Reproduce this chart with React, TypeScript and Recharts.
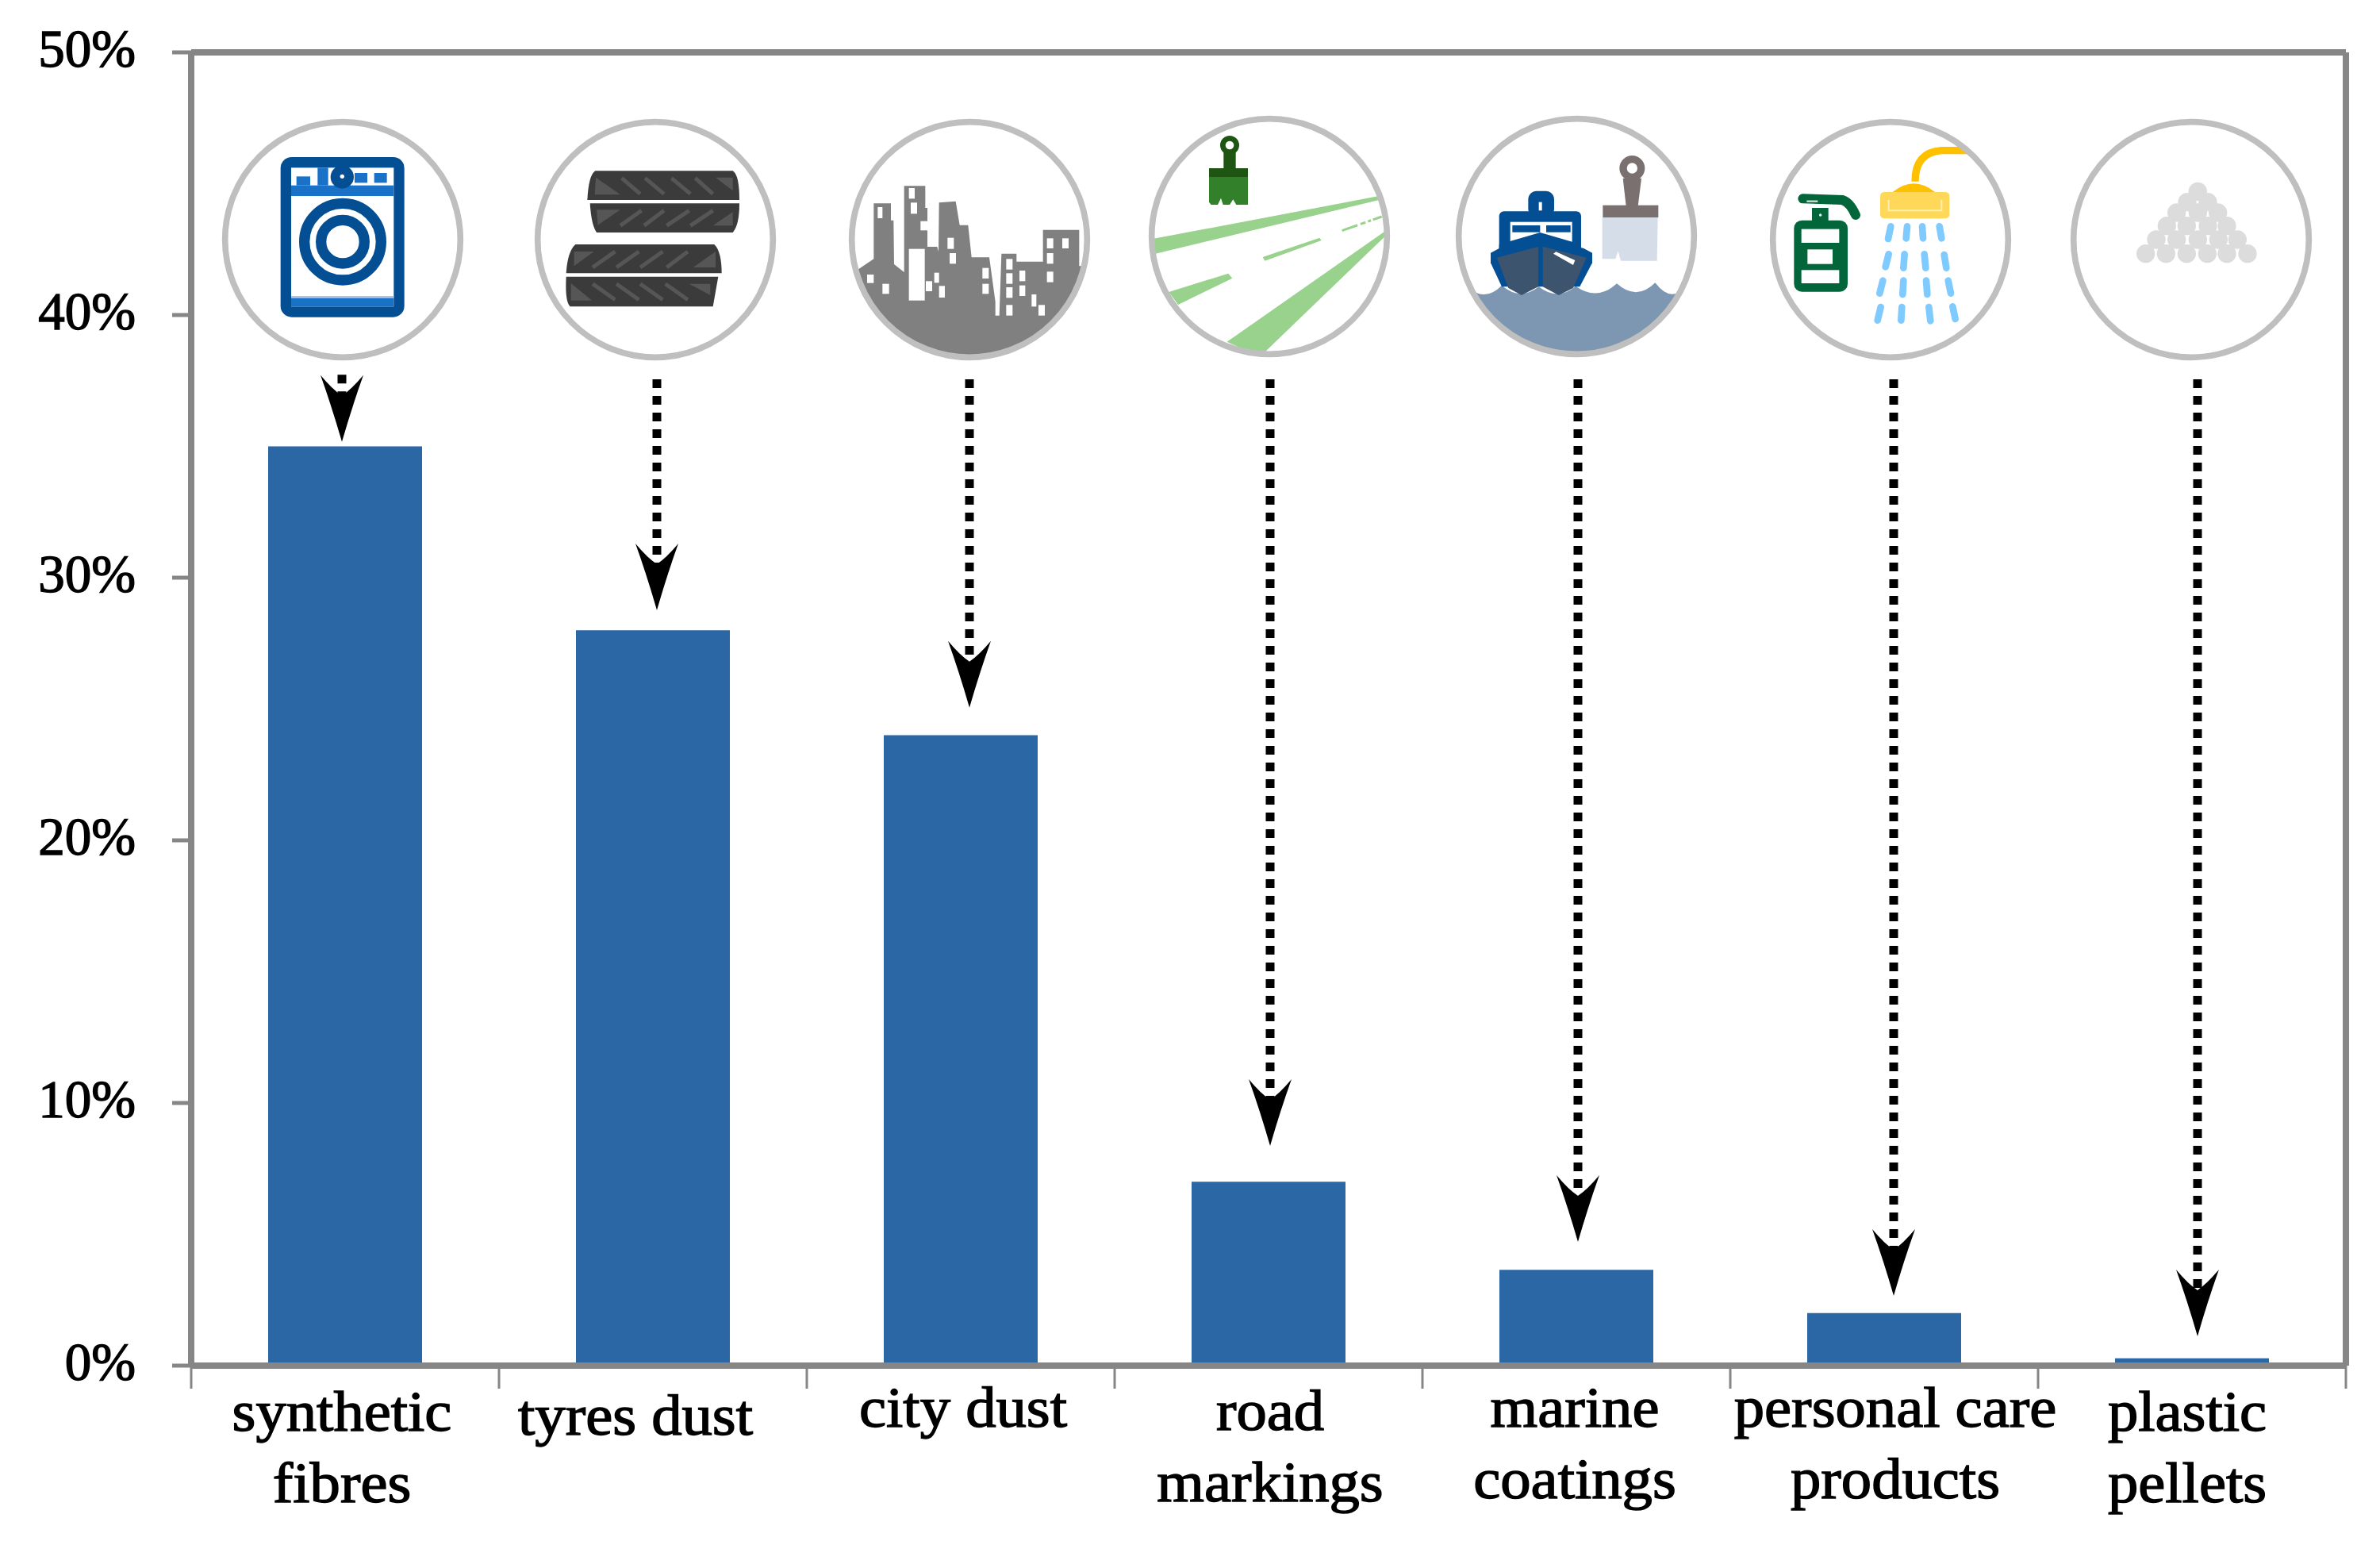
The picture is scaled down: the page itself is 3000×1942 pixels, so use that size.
import { BarChart, Bar, XAxis, YAxis, ReferenceLine, ReferenceDot } from 'recharts';

const categories = ['synthetic fibres', 'tyres dust', 'city dust', 'road markings', 'marine coatings', 'personal care products', 'plastic pellets'];
const shares = [35, 28, 24, 7, 3.65, 2, 0.28];
const yTicks = [0, 10, 20, 30, 40, 50];
const labelLines = [['synthetic', 'fibres'], ['tyres dust'], ['city dust'], ['road', 'markings'], ['marine', 'coatings'], ['personal care', 'products'], ['plastic', 'pellets']];
const arrowFrom = [37.73, 37.55, 37.55, 37.55, 37.55, 37.55, 37.55];
const arrowTo = [35.17, 28.76, 25.05, 8.37, 4.71, 2.66, 1.12];
const iconLevel = 42.87;

const GREY = '#868686';
const BLUE = '#2b67a4';
const RING = '#bfbfbf';
const FONT = '"Liberation Serif", serif';
const BAND = 2716 / 7;

// hand offsets, the labels and icons are not quite centred on their bars
const labelDx = [-4, -22, 3, 2, -2, 14, -6];
const labelBase = [82, 87, 77, 81, 77, 77, 82];
const iconDx = [-3, 3, 11, 1, 0, 8, -1];
const iconDy = [0, 0, 0, -4, -4, 0, 0];
const arrowDx = [-4, 5, 11, 2, 2, 12, 7];

// icons are drawn in a 1000 box around their own ring centre, then scaled down
const Washer = () => (
  <g>
    <rect x={250} y={175} width={468} height={605} rx={42} fill="#044f93" />
    <rect x={290} y={215} width={388} height={525} fill="#fff" />
    <rect x={290} y={282} width={388} height={40} fill="#1a72c8" />
    <rect x={290} y={700} width={388} height={8} fill="#a9c6e6" />
    <rect x={290} y={708} width={388} height={32} fill="#1a72c8" />
    <rect x={310} y={248} width={52} height={34} fill="#1a72c8" />
    <rect x={390} y={215} width={40} height={67} fill="#1a72c8" />
    <rect x={530} y={235} width={48} height={37} fill="#1a72c8" />
    <rect x={604} y={235} width={48} height={37} fill="#1a72c8" />
    <circle cx={483} cy={250} r={44} fill="#044f93" />
    <circle cx={483} cy={248} r={8} fill="#fff" />
    <circle cx={485} cy={495} r={145} fill="none" stroke="#044f93" strokeWidth={40} />
    <circle cx={485} cy={495} r={82} fill="none" stroke="#044f93" strokeWidth={40} />
  </g>
);

const treadLines = [
  [370, 252, 440, 312], [458, 252, 530, 312], [558, 252, 630, 312], [648, 252, 715, 312],
  [445, 375, 365, 432], [530, 375, 455, 432], [625, 375, 540, 432], [715, 375, 630, 432],
  [345, 530, 260, 590], [435, 530, 350, 590], [525, 530, 440, 590], [620, 530, 540, 590],
  [260, 652, 345, 712], [350, 652, 435, 712], [440, 652, 525, 712], [535, 652, 620, 712],
];
const treadEnds = [
  '272,250 365,315 268,315', '725,250 790,250 790,300', '275,372 365,372 280,430', '790,380 790,432 715,432',
  '190,530 265,530 190,585', '725,530 725,590 640,590', '178,650 178,715 258,715', '625,652 705,652 705,695',
];
const Tyres = () => (
  <g>
    <path d="M270,225 H790 Q815,240 815,335 H240 Q245,240 270,225 Z" fill="#3b3b3b" />
    <path d="M250,348 H815 Q815,430 790,458 H275 Q255,430 250,348 Z" fill="#3b3b3b" />
    <path d="M195,503 H720 Q748,530 748,612 H160 Q165,530 195,503 Z" fill="#3b3b3b" />
    <path d="M160,625 H735 L715,738 H175 Q155,720 160,625 Z" fill="#3b3b3b" />
    {treadEnds.map((p, i) => <polygon key={i} points={p} fill="#565656" />)}
    {treadLines.map((l, i) => <line key={i} x1={l[0]} y1={l[1]} x2={l[2]} y2={l[3]} stroke="#565656" strokeWidth={15} />)}
  </g>
);

const cityWindows = [
  [150, 362, 18, 42], [268, 290, 22, 40], [275, 345, 24, 42], [110, 617, 25, 32], [168, 652, 25, 38],
  [268, 520, 60, 195], [312, 415, 26, 35], [332, 642, 24, 38], [364, 610, 18, 38], [382, 660, 22, 44],
  [414, 478, 24, 42], [422, 536, 24, 40], [546, 592, 24, 40], [546, 652, 24, 38], [636, 558, 24, 40],
  [636, 612, 24, 40], [636, 665, 24, 40], [636, 732, 24, 40], [686, 602, 22, 40], [686, 658, 22, 40],
  [732, 692, 18, 46], [758, 732, 24, 40], [790, 480, 24, 38], [848, 480, 24, 38], [790, 536, 24, 40], [790, 606, 24, 40],
];
const City = () => (
  <g>
    <path
      d="M65,605 L135,558 V348 H200 V412 H210 L212,578 L250,608 V282 H330 V365 H338 V512 H375 L380,530 L382,345 L445,340 L460,430 H492 L505,552 H572 L595,720 V772 H610 L618,538 H675 V568 H775 V448 H912 V585 H935 A449,449 0 0 1 65,605 Z"
      fill="#808080"
    />
    {cityWindows.map((w, i) => <rect key={i} x={w[0]} y={w[1]} width={w[2]} height={w[3]} fill="#fff" />)}
  </g>
);

const Road = () => (
  <g>
    <polygon points="50,500 905,338 910,352 58,557" fill="#98d28c" />
    <polygon points="470,568 685,495 692,505 478,582" fill="#98d28c" />
    <line x1={770} y1={468} x2={920} y2={415} stroke="#98d28c" strokeWidth={9} strokeDasharray="62 12 20 10 12 8" />
    <polygon points="115,700 340,630 355,648 150,748" fill="#98d28c" />
    <polygon points="335,888 930,472 932,490 480,925 400,918" fill="#98d28c" />
    <circle cx={345} cy={145} r={26} fill="#fff" stroke="#1e5512" strokeWidth={20} />
    <rect x={322} y={168} width={46} height={68} fill="#1e5512" />
    <rect x={267} y={232} width={147} height={33} fill="#1e5512" />
    <polygon points="267,265 414,265 414,370 370,370 358,350 345,370 320,370 312,345 300,370 275,370 267,360" fill="#33802a" />
  </g>
);

const Marine = () => (
  <g>
    <path
      d="M95,690 Q150,735 210,675 Q280,735 350,680 Q420,735 490,678 Q570,735 645,668 Q720,735 790,665 Q840,730 885,698 A445,445 0 0 1 95,690 Z"
      fill="#7d97b2"
    />
    <rect x={310} y={318} width={98} height={100} rx={32} fill="#044f93" />
    <rect x={350} y={360} width={12} height={32} fill="#fff" />
    <rect x={200} y={395} width={310} height={165} rx={18} fill="#044f93" />
    <rect x={242} y={435} width={234} height={80} fill="#fff" />
    <rect x={250} y={448} width={105} height={26} fill="#044f93" />
    <rect x={378} y={448} width={92} height={26} fill="#044f93" />
    <polygon points="200,520 355,475 510,520 510,560 200,560" fill="#044f93" />
    <polygon points="168,552 200,535 355,490 520,535 552,552 552,590 505,680 210,680 168,590" fill="#044f93" />
    <polygon points="192,570 348,528 348,680 285,712 235,685" fill="#3d546f" />
    <polygon points="365,528 530,570 480,685 425,712 365,680" fill="#3d546f" />
    <polygon points="405,555 415,548 487,580 480,598" fill="#fff" />
    <circle cx={703} cy={232} r={34} fill="#fff" stroke="#7a7070" strokeWidth={28} />
    <polygon points="668,270 738,270 725,375 680,375" fill="#7a7070" />
    <rect x={592} y={372} width={210} height={46} fill="#7a7070" />
    <polygon points="590,418 800,418 797,582 660,582 650,545 640,575 590,575" fill="#d5dde8" />
  </g>
);

const showerDrops = [
  [498, 435, 488, 482], [560, 435, 556, 480], [617, 435, 620, 480], [682, 435, 690, 480],
  [490, 540, 478, 588], [550, 540, 546, 592], [625, 540, 630, 592], [700, 542, 708, 592],
  [468, 640, 456, 688], [546, 640, 543, 692], [632, 640, 636, 692], [715, 640, 725, 688],
  [460, 740, 448, 790], [540, 740, 537, 790], [642, 740, 648, 792], [732, 738, 742, 785],
];
const CareProducts = () => (
  <g>
    <rect x={132} y={412} width={203} height={270} rx={30} fill="#03663a" />
    <rect x={160} y={445} width={143} height={52} fill="#fff" />
    <rect x={183} y={522} width={95} height={55} fill="#fff" />
    <rect x={160} y={600} width={143} height={50} fill="#fff" />
    <rect x={200} y={365} width={62} height={50} fill="#03663a" />
    <circle cx={232} cy={392} r={5} fill="#fff" />
    <path d="M165,330 L315,335 Q345,345 365,392" fill="none" stroke="#03663a" strokeWidth={36} strokeLinecap="round" />
    <line x1={180} y1={340} x2={222} y2={340} stroke="#cfe0d6" strokeWidth={7} />
    <path d="M790,148 H690 Q590,155 590,265" fill="none" stroke="#ffc000" strokeWidth={28} />
    <path d="M505,305 Q585,240 665,305 Z" fill="#ffc000" />
    <rect x={458} y={305} width={262} height={100} rx={15} fill="#ffd859" />
    <path d="M490,335 V375 H690 V335" fill="none" stroke="#ffefb0" strokeWidth={6} />
    {showerDrops.map((d, i) => (
      <line key={i} x1={d[0]} y1={d[1]} x2={d[2]} y2={d[3]} stroke="#7fcaff" strokeWidth={26} strokeLinecap="round" />
    ))}
  </g>
);

const pelletRows = [
  [305, [512]],
  [345, [472, 550]],
  [385, [432, 512, 588]],
  [435, [395, 470, 550, 622]],
  [487, [355, 432, 512, 590, 662]],
  [540, [315, 392, 470, 548, 622, 700]],
] as [number, number[]][];
const Pellets = () => (
  <g>
    {pelletRows.map(([y, xs]) => xs.map((x) => <circle key={`${x}-${y}`} cx={x} cy={y} r={35} fill="#dcdcdc" />))}
  </g>
);

const icons = [
  { Art: Washer, cx: 485, cy: 487 },
  { Art: Tyres, cx: 497, cy: 485 },
  { Art: City, cx: 497, cy: 485 },
  { Art: Road, cx: 495, cy: 490 },
  { Art: Marine, cx: 492, cy: 490 },
  { Art: CareProducts, cx: 497, cy: 485 },
  { Art: Pellets, cx: 487, cy: 487 },
];

const renderIcon = (i: number) => (props: any) => {
  const { Art, cx, cy } = icons[i];
  const tx = props.cx + iconDx[i];
  const ty = props.cy + iconDy[i];
  return (
    <g transform={`translate(${tx} ${ty}) scale(${1 / 3}) translate(${-cx} ${-cy})`}>
      <Art />
      <circle cx={cx} cy={cy} r={445} fill="none" stroke={RING} strokeWidth={23} />
    </g>
  );
};

const renderArrow = (i: number) => (props: any) => {
  const x = props.x1 + arrowDx[i];
  const top = props.y1;
  const tip = props.y2;
  const head = `M${x},${tip} Q${x - 13},${tip - 45} ${x - 27},${tip - 84} Q${x - 12},${tip - 66} ${x},${tip - 58} Q${x + 12},${tip - 66} ${x + 27},${tip - 84} Q${x + 13},${tip - 45} ${x},${tip} Z`;
  return (
    <g>
      <line x1={x} y1={top} x2={x} y2={tip - 50} stroke="#000" strokeWidth={11} strokeDasharray="11 10" />
      <path d={head} fill="#000" />
    </g>
  );
};

const renderYTick = ({ x, y, payload }: any) => (
  <text x={x} y={y - 5} dy="0.34em" textAnchor="end" fontFamily={FONT} fontSize={67} fill="#000" stroke="#000" strokeWidth={1.4}>
    {payload.value}%
  </text>
);

const renderXTick = ({ x, payload, index }: any) => {
  const i = categories.indexOf(payload.value);
  const axisY = 1721;
  return (
    <g>
      <line x1={x - BAND / 2} y1={axisY} x2={x - BAND / 2} y2={axisY + 29} stroke={GREY} strokeWidth={3} />
      {index === categories.length - 1 && (
        <line x1={x + BAND / 2} y1={axisY} x2={x + BAND / 2} y2={axisY + 29} stroke={GREY} strokeWidth={3} />
      )}
      {labelLines[i].map((line, j) => (
        <text
          key={line}
          transform={`translate(${x + labelDx[i]} ${axisY + labelBase[i] + j * 90}) scale(1.08 1)`}
          textAnchor="middle"
          fontFamily={FONT}
          fontSize={71}
          fill="#000"
          stroke="#000"
          strokeWidth={1.4}
        >
          {line}
        </text>
      ))}
    </g>
  );
};

const data = categories.map((name, i) => ({ name, share: shares[i] }));

export default function App() {
  return (
    <div style={{ position: 'absolute', left: 0, top: 0, background: '#fff' }}>
      <BarChart width={3000} height={1942} data={data} margin={{ top: 65, right: 42, left: 0, bottom: 0 }} barSize={194}>
        <XAxis
          dataKey="name"
          height={221}
          interval={0}
          tick={renderXTick}
          tickLine={false}
          axisLine={{ stroke: GREY, strokeWidth: 8 }}
        />
        <XAxis xAxisId="top" orientation="top" height={1} tick={false} tickLine={false} axisLine={{ stroke: GREY, strokeWidth: 8 }} />
        <YAxis
          domain={[0, 50]}
          ticks={yTicks}
          width={241}
          interval={0}
          tick={renderYTick}
          tickSize={24}
          tickMargin={46}
          tickLine={{ stroke: GREY, strokeWidth: 5 }}
          axisLine={{ stroke: GREY, strokeWidth: 8 }}
        />
        <YAxis yAxisId="right" orientation="right" width={1} domain={[0, 50]} tick={false} tickLine={false} axisLine={{ stroke: GREY, strokeWidth: 8 }} />
        <Bar dataKey="share" fill={BLUE} isAnimationActive={false} />
        {categories.map((name, i) => (
          <ReferenceDot key={name} x={name} y={iconLevel} r={1} shape={renderIcon(i)} />
        ))}
        {categories.map((name, i) => (
          <ReferenceLine
            key={name}
            segment={[{ x: name, y: arrowFrom[i] }, { x: name, y: arrowTo[i] }]}
            shape={renderArrow(i)}
          />
        ))}
      </BarChart>
    </div>
  );
}
